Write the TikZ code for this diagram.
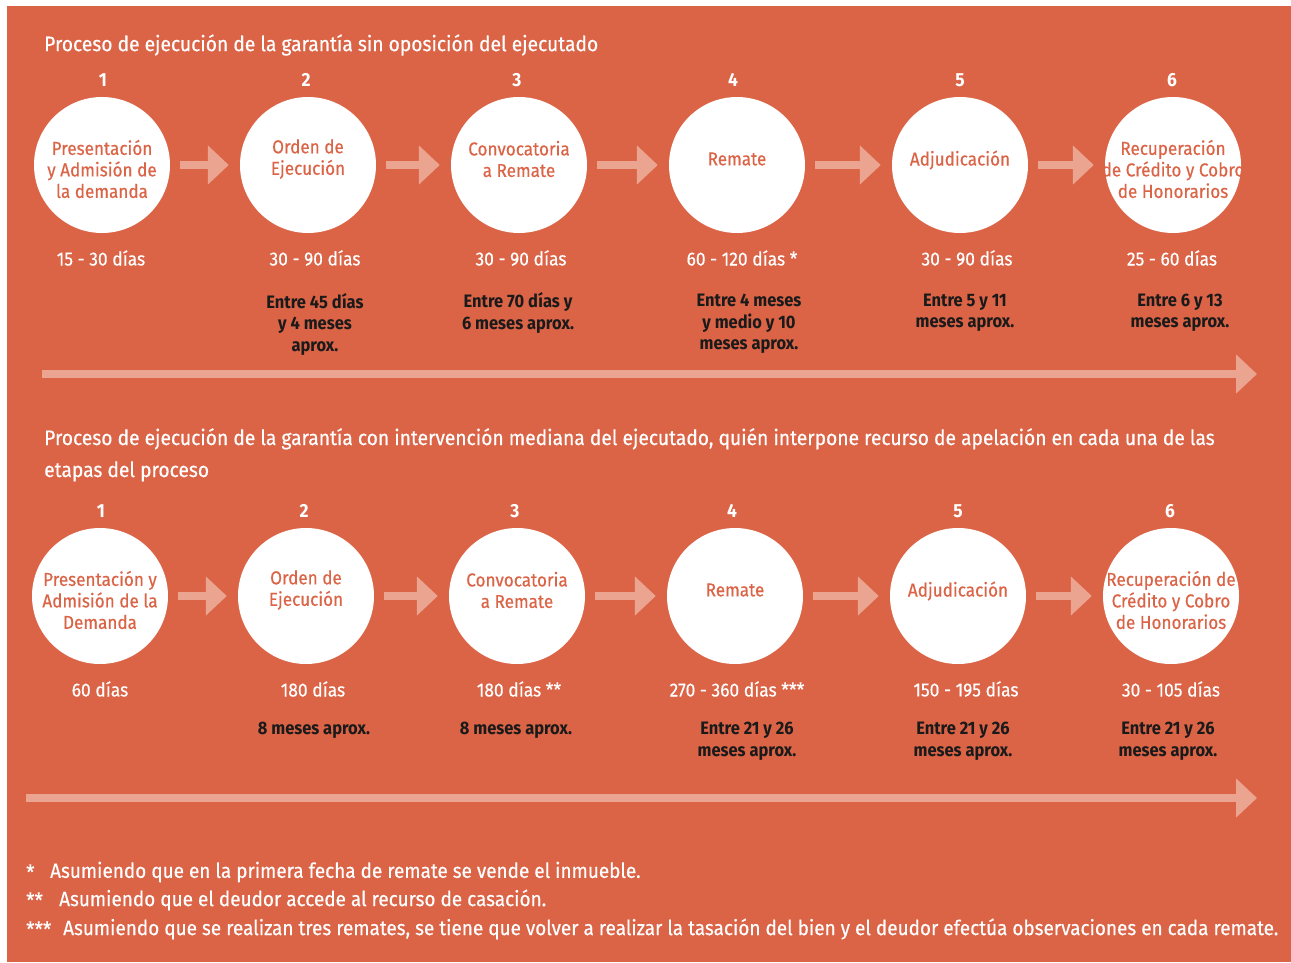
\documentclass[tikz,border=0pt]{standalone}
\usepackage{fontspec}
\setmainfont{Fira Sans}[FakeStretch=0.915, UprightFeatures={FakeBold=0.4}]
\usetikzlibrary{arrows.meta}

\definecolor{bgorange}{HTML}{DB6346}
\definecolor{lightarrow}{HTML}{EAA48F}
\definecolor{darktext}{HTML}{1A1A1A}

\tikzset{
  stage/.style={circle, fill=white, minimum size=136pt, inner sep=0pt},
  stagetext/.style={text=bgorange, inner sep=0pt, align=center, font=\fontsize{18.7}{21.5}\selectfont},
  stepnum/.style={text=white, inner sep=0pt, font=\bfseries\fontsize{19}{21}\selectfont},
  dur/.style={text=white, inner sep=0pt, font=\fontsize{19}{21.5}\selectfont},
  approx/.style={text=darktext, inner sep=0pt, align=center, font=\bfseries\fontsize{18}{21.5}\selectfont},
  flow/.style={draw=lightarrow, line width=8pt, -{Triangle[width=38pt,length=21pt]}, shorten <=10pt, shorten >=11pt},
  timeline/.style={draw=lightarrow, line width=8pt, -{Triangle[width=38pt,length=21pt]}},
  heading/.style={text=white, anchor=west, inner sep=0pt, align=left, font=\fontsize{21}{32}\selectfont},
  note/.style={text=white, anchor=west, inner sep=0pt, font=\fontsize{20.7}{28}\selectfont},
}

\begin{document}
\begin{tikzpicture}[x=1pt, y=-1pt]
		\useasboundingbox (0,0) rectangle (1291,962);
		\fill[bgorange] (7,6) rectangle (1291,962);

		% First process
		\node (title1) [heading] at (44,45) {Proceso de ejecución de la garantía sin oposición del ejecutado};

		\node (num11) [stepnum] at (103,80) {1};
		\node (num12) [stepnum] at (306,80) {2};
		\node (num13) [stepnum] at (517,80) {3};
		\node (num14) [stepnum] at (733,80) {4};
		\node (num15) [stepnum] at (960,80) {5};
		\node (num16) [stepnum] at (1172,80) {6};

		\node (pres1) [stage, label={[stagetext, yshift=-4pt]center:Presentación\\y Admisión de\\la demanda}] at (102,165) {};
		\node (orden1) [stage, label={[stagetext, yshift=6pt]center:Orden de\\Ejecución}] at (308,165) {};
		\node (conv1) [stage, label={[stagetext, yshift=6pt]center:Convocatoria\\a Remate}] at (519,165) {};
		\node (remate1) [stage, label={[stagetext, yshift=6pt]center:Remate}] at (737,165) {};
		\node (adj1) [stage, label={[stagetext, yshift=5pt]center:Adjudicación}] at (960,165) {};
		\node (recup1) [stage, label={[stagetext, yshift=-4pt]center:Recuperación\\de Crédito y Cobro\\de Honorarios}] at (1173,165) {};

		\draw[flow] (pres1) -- (orden1);
		\draw[flow] (orden1) -- (conv1);
		\draw[flow] (conv1) -- (remate1);
		\draw[flow] (remate1) -- (adj1);
		\draw[flow] (adj1) -- (recup1);

		% Durations
		\node (dur11) [dur] at (101,258) {15 - 30 días};
		\node (dur12) [dur] at (315,258) {30 - 90 días};
		\node (dur13) [dur] at (521,258) {30 - 90 días};
		\node (dur14) [dur] at (742,258) {60 - 120 días *};
		\node (dur15) [dur] at (967,258) {30 - 90 días};
		\node (dur16) [dur] at (1172,258) {25 - 60 días};

		\node (acc12) [approx] at (315,324) {Entre 45 días\\y 4 meses\\aprox.};
		\node (acc13) [approx] at (518,313) {Entre 70 días y\\6 meses aprox.};
		\node (acc14) [approx] at (749,324) {Entre 4 meses\\y medio y 10\\meses aprox.};
		\node (acc15) [approx] at (965,313) {Entre 5 y 11\\meses aprox.};
		\node (acc16) [approx] at (1180,313) {Entre 6 y 13\\meses aprox.};

		\coordinate (line1s) at (42,374);
		\coordinate (line1e) at (1257,374);
		\draw[timeline] (line1s) -- (line1e);

		% Second process
		\node (title2) [heading, anchor=north west] at (44,428) {Proceso de ejecución de la garantía con intervención mediana del ejecutado, quién interpone recurso de apelación en cada una de las\\etapas del proceso};

		\node (num21) [stepnum] at (101,511) {1};
		\node (num22) [stepnum] at (304,511) {2};
		\node (num23) [stepnum] at (515,511) {3};
		\node (num24) [stepnum] at (732,511) {4};
		\node (num25) [stepnum] at (958,511) {5};
		\node (num26) [stepnum] at (1170,511) {6};

		\node (pres2) [stage, label={[stagetext, yshift=-4pt]center:Presentación y\\Admisión de la\\Demanda}] at (100,596) {};
		\node (orden2) [stage, label={[stagetext, yshift=6pt]center:Orden de\\Ejecución}] at (306,596) {};
		\node (conv2) [stage, label={[stagetext, yshift=6pt]center:Convocatoria\\a Remate}] at (517,596) {};
		\node (remate2) [stage, label={[stagetext, yshift=6pt]center:Remate}] at (735,596) {};
		\node (adj2) [stage, label={[stagetext, yshift=5pt]center:Adjudicación}] at (958,596) {};
		\node (recup2) [stage, label={[stagetext, yshift=-4pt]center:Recuperación de\\Crédito y Cobro\\de Honorarios}] at (1171,596) {};

		\draw[flow] (pres2) -- (orden2);
		\draw[flow] (orden2) -- (conv2);
		\draw[flow] (conv2) -- (remate2);
		\draw[flow] (remate2) -- (adj2);
		\draw[flow] (adj2) -- (recup2);

		% Durations
		\node (dur21) [dur] at (100,689) {60 días};
		\node (dur22) [dur] at (313,689) {180 días};
		\node (dur23) [dur] at (519,689) {180 días **};
		\node (dur24) [dur] at (737,689) {270 - 360 días ***};
		\node (dur25) [dur] at (966,689) {150 - 195 días};
		\node (dur26) [dur] at (1171,689) {30 - 105 días};

		\node (acc22) [approx] at (314,730) {8 meses aprox.};
		\node (acc23) [approx] at (516,730) {8 meses aprox.};
		\node (acc24) [approx] at (747,741) {Entre 21 y 26\\meses aprox.};
		\node (acc25) [approx] at (963,741) {Entre 21 y 26\\meses aprox.};
		\node (acc26) [approx] at (1168,741) {Entre 21 y 26\\meses aprox.};

		\coordinate (line2s) at (26,798);
		\coordinate (line2e) at (1257,798);
		\draw[timeline] (line2s) -- (line2e);

		% Notes
		\node (star1) [note] at (26,872) {*};
		\node (note1) [note] at (50,872) {Asumiendo que en la primera fecha de remate se vende el inmueble.};
		\node (star2) [note] at (26,900) {**};
		\node (note2) [note] at (59,900) {Asumiendo que el deudor accede al recurso de casación.};
		\node (star3) [note] at (26,929) {***};
		\node (note3) [note] at (63,929) {Asumiendo que se realizan tres remates, se tiene que volver a realizar la tasación del bien y el deudor efectúa observaciones en cada remate.};
	\end{tikzpicture}
\end{document}
